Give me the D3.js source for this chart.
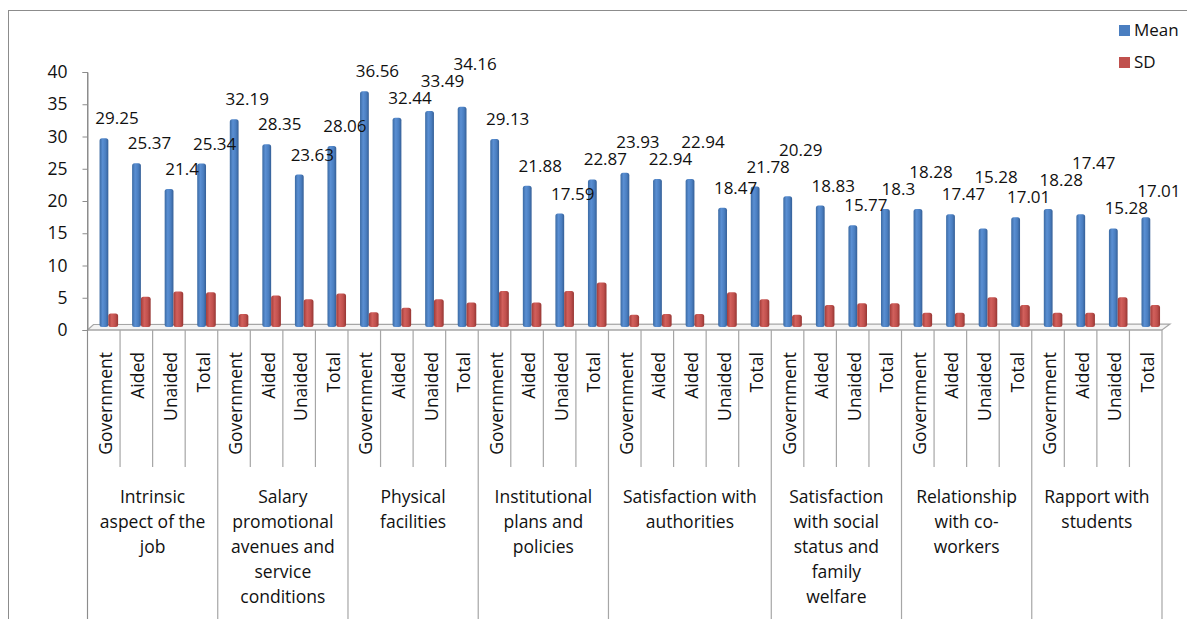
<!DOCTYPE html>
<html>
<head>
<meta charset="utf-8">
<script src="https://cdn.jsdelivr.net/npm/d3@7"></script>
<style>
  html, body { margin: 0; padding: 0; background: #fff; }
  svg { display: block; }
  text { font-family: "Open Sans", "Noto Sans", sans-serif; fill: #111; }
</style>
</head>
<body>
<svg id="chart" width="1187" height="619"></svg>
<script>
// ---------- data ----------
const groupNames = [
  "Intrinsic\naspect of the\njob",
  "Salary\npromotional\navenues and\nservice\nconditions",
  "Physical\nfacilities",
  "Institutional\nplans and\npolicies",
  "Satisfaction with\nauthorities",
  "Satisfaction\nwith social\nstatus and\nfamily\nwelfare",
  "Relationship\nwith co-\nworkers",
  "Rapport with\nstudents"
];
const groupSizes = [4, 4, 4, 4, 5, 4, 4, 4];
const subCategories = [
  "Government","Aided","Unaided","Total",
  "Government","Aided","Unaided","Total",
  "Government","Aided","Unaided","Total",
  "Government","Aided","Unaided","Total",
  "Government","Aided","Aided","Unaided","Total",
  "Government","Aided","Unaided","Total",
  "Government","Aided","Unaided","Total",
  "Government","Aided","Unaided","Total"
];
const meanValues = [
  29.25, 25.37, 21.4, 25.34,
  32.19, 28.35, 23.63, 28.06,
  36.56, 32.44, 33.49, 34.16,
  29.13, 21.88, 17.59, 22.87,
  23.93, 22.94, 22.94, 18.47, 21.78,
  20.29, 18.83, 15.77, 18.3,
  18.28, 17.47, 15.28, 17.01,
  18.28, 17.47, 15.28, 17.01
];
const sdValues = [
  2.1, 4.7, 5.5, 5.4,
  2.0, 4.9, 4.3, 5.2,
  2.3, 3.0, 4.3, 3.8,
  5.6, 3.8, 5.6, 6.9,
  1.9, 2.0, 2.0, 5.4, 4.3,
  1.9, 3.4, 3.7, 3.7,
  2.2, 2.2, 4.6, 3.4,
  2.2, 2.2, 4.6, 3.4
];
const yTicks = [0, 5, 10, 15, 20, 25, 30, 35, 40];
const seriesNames = ["Mean", "SD"];

// ---------- drawing ----------
const svg = d3.select("#chart");
const W = 1187, H = 619;
const axisX = 87.5, axisRight = 1162;
const yBase = 330, yTop = 72;
const depth = 3;

// outer frame
svg.append("rect").attr("x", 8.5).attr("y", 10.5).attr("width", 1200).attr("height", 700)
  .attr("fill", "none").attr("stroke", "#8c8c8c").attr("stroke-width", 1);

const x = d3.scaleBand().domain(d3.range(subCategories.length)).range([axisX, axisRight])
  .paddingInner(0).paddingOuter(0);
const y = d3.scaleLinear().domain([0, 40]).range([yBase, yTop]);
const bw = x.bandwidth();

// gradients
const defs = svg.append("defs");
function grad(id, stops) {
  const g = defs.append("linearGradient").attr("id", id).attr("x1", "0%").attr("x2", "100%").attr("y1", "0%").attr("y2", "0%");
  stops.forEach(s => g.append("stop").attr("offset", s[0]).attr("stop-color", s[1]));
}
grad("gBlue", [["0%", "#3b6aa3"], ["35%", "#5a8fd3"], ["70%", "#4a7ec0"], ["100%", "#355f96"]]);
grad("gRed", [["0%", "#a23c39"], ["35%", "#d2605c"], ["70%", "#c0504d"], ["100%", "#963633"]]);

// floor
const floorPts = [[axisX, yBase], [axisX + 6, yBase - 5.5], [axisRight + 8, yBase - 6], [axisRight, yBase]];
svg.append("path").attr("d", d3.line()(floorPts) + "Z")
  .attr("fill", "#f4f4f4").attr("stroke", "#a6a6a6").attr("stroke-width", 1.2);

// y axis
const yAxis = d3.axisLeft(y).tickValues(yTicks).tickSize(5).tickPadding(15).tickFormat(d3.format("d"));
const ya = svg.append("g").attr("transform", `translate(${axisX},0)`).call(yAxis);
ya.select(".domain").attr("stroke", "#8c8c8c");
ya.selectAll(".tick line").attr("stroke", "#8c8c8c");
ya.selectAll(".tick text").style("font-size", "17.5px").style("font-family", "'Open Sans', sans-serif").attr("fill", "#111");

// bars
const idx = d3.range(subCategories.length);
const blueX = i => x(i) + bw * 0.37, blueW = bw * 0.27;
const redX = i => x(i) + bw * 0.64, redW = bw * 0.30;

svg.append("g").selectAll("rect").data(idx).join("rect")
  .attr("x", i => blueX(i)).attr("width", blueW)
  .attr("y", i => y(meanValues[i]) - depth)
  .attr("height", i => y(0) - y(meanValues[i]))
  .attr("rx", 2.5).attr("fill", "url(#gBlue)");

svg.append("g").selectAll("rect").data(idx).join("rect")
  .attr("x", i => redX(i)).attr("width", redW)
  .attr("y", i => y(sdValues[i]) - depth)
  .attr("height", i => y(0) - y(sdValues[i]))
  .attr("rx", 2.5).attr("fill", "url(#gRed)");

// data labels (mean) with simple collision avoidance (labels pushed upward)
const labels = svg.append("g").selectAll("text").data(idx).join("text")
  .attr("text-anchor", "middle")
  .style("font-size", "17px")
  .text(i => meanValues[i]);
const placed = [];
const lh = 18;
labels.each(function(i) {
  const t = d3.select(this);
  const cx = blueX(i) + blueW / 2 + 13;
  const w = this.getComputedTextLength();
  let base = y(meanValues[i]) - depth - 14;
  for (let iter = 0; iter < 20; iter++) {
    const top = base - 13, bottom = base + 3;
    const hit = placed.find(p => cx - w / 2 < p.x2 + 1 && cx + w / 2 > p.x1 - 1 && top < p.bottom && bottom > p.top);
    if (!hit) break;
    base = hit.top - 4;
  }
  placed.push({ x1: cx - w / 2, x2: cx + w / 2, top: base - 13, bottom: base + 3 });
  t.attr("x", cx).attr("y", base);
});

// x axis table: front edge
svg.append("line").attr("x1", axisX).attr("x2", axisRight).attr("y1", yBase).attr("y2", yBase)
  .attr("stroke", "#a6a6a6").attr("stroke-width", 1.2);

// group boundaries
const groupStart = [];
let acc = 0;
groupSizes.forEach(s => { groupStart.push(acc); acc += s; });
const groupBoundary = new Set(groupStart.concat([acc]));

const divs = d3.range(subCategories.length + 1);
svg.append("g").selectAll("line").data(divs).join("line")
  .attr("x1", i => i < subCategories.length ? x(i) : axisRight)
  .attr("x2", i => i < subCategories.length ? x(i) : axisRight)
  .attr("y1", yBase)
  .attr("y2", i => groupBoundary.has(i) ? H : 467)
  .attr("stroke", "#a6a6a6").attr("stroke-width", 1.2);

// y axis line continuing down (left border of table)
svg.append("line").attr("x1", axisX).attr("x2", axisX).attr("y1", yTop).attr("y2", H)
  .attr("stroke", "#8c8c8c");

// sub-category labels
svg.append("g").selectAll("text").data(idx).join("text")
  .attr("transform", i => `translate(${x(i) + bw / 2 + 2},352) rotate(-90)`)
  .attr("text-anchor", "end").attr("dy", "0.35em")
  .style("font-size", "17.5px")
  .text(i => subCategories[i]);

// group labels
const gl = svg.append("g").selectAll("text").data(groupNames).join("text")
  .attr("text-anchor", "middle")
  .style("font-size", "17.5px")
  .attr("x", (d, g) => (x(groupStart[g]) + (g + 1 < groupStart.length ? x(groupStart[g + 1]) : axisRight)) / 2)
  .attr("y", 503);
gl.each(function(d, g) {
  const t = d3.select(this);
  const cx = t.attr("x");
  d.split("\n").forEach((line, k) => {
    t.append("tspan").attr("x", cx).attr("y", 503 + k * 25).text(line);
  });
});

// legend
const legendColors = ["#4a7ec0", "#c0504d"];
const lg = svg.append("g").selectAll("g").data(seriesNames).join("g")
  .attr("transform", (d, i) => `translate(1119,${25 + i * 32})`);
lg.append("rect").attr("width", 11).attr("height", 11).attr("fill", (d, i) => legendColors[i]);
lg.append("text").attr("x", 15).attr("y", 11).style("font-size", "17px").text(d => d);
</script>
</body>
</html>
